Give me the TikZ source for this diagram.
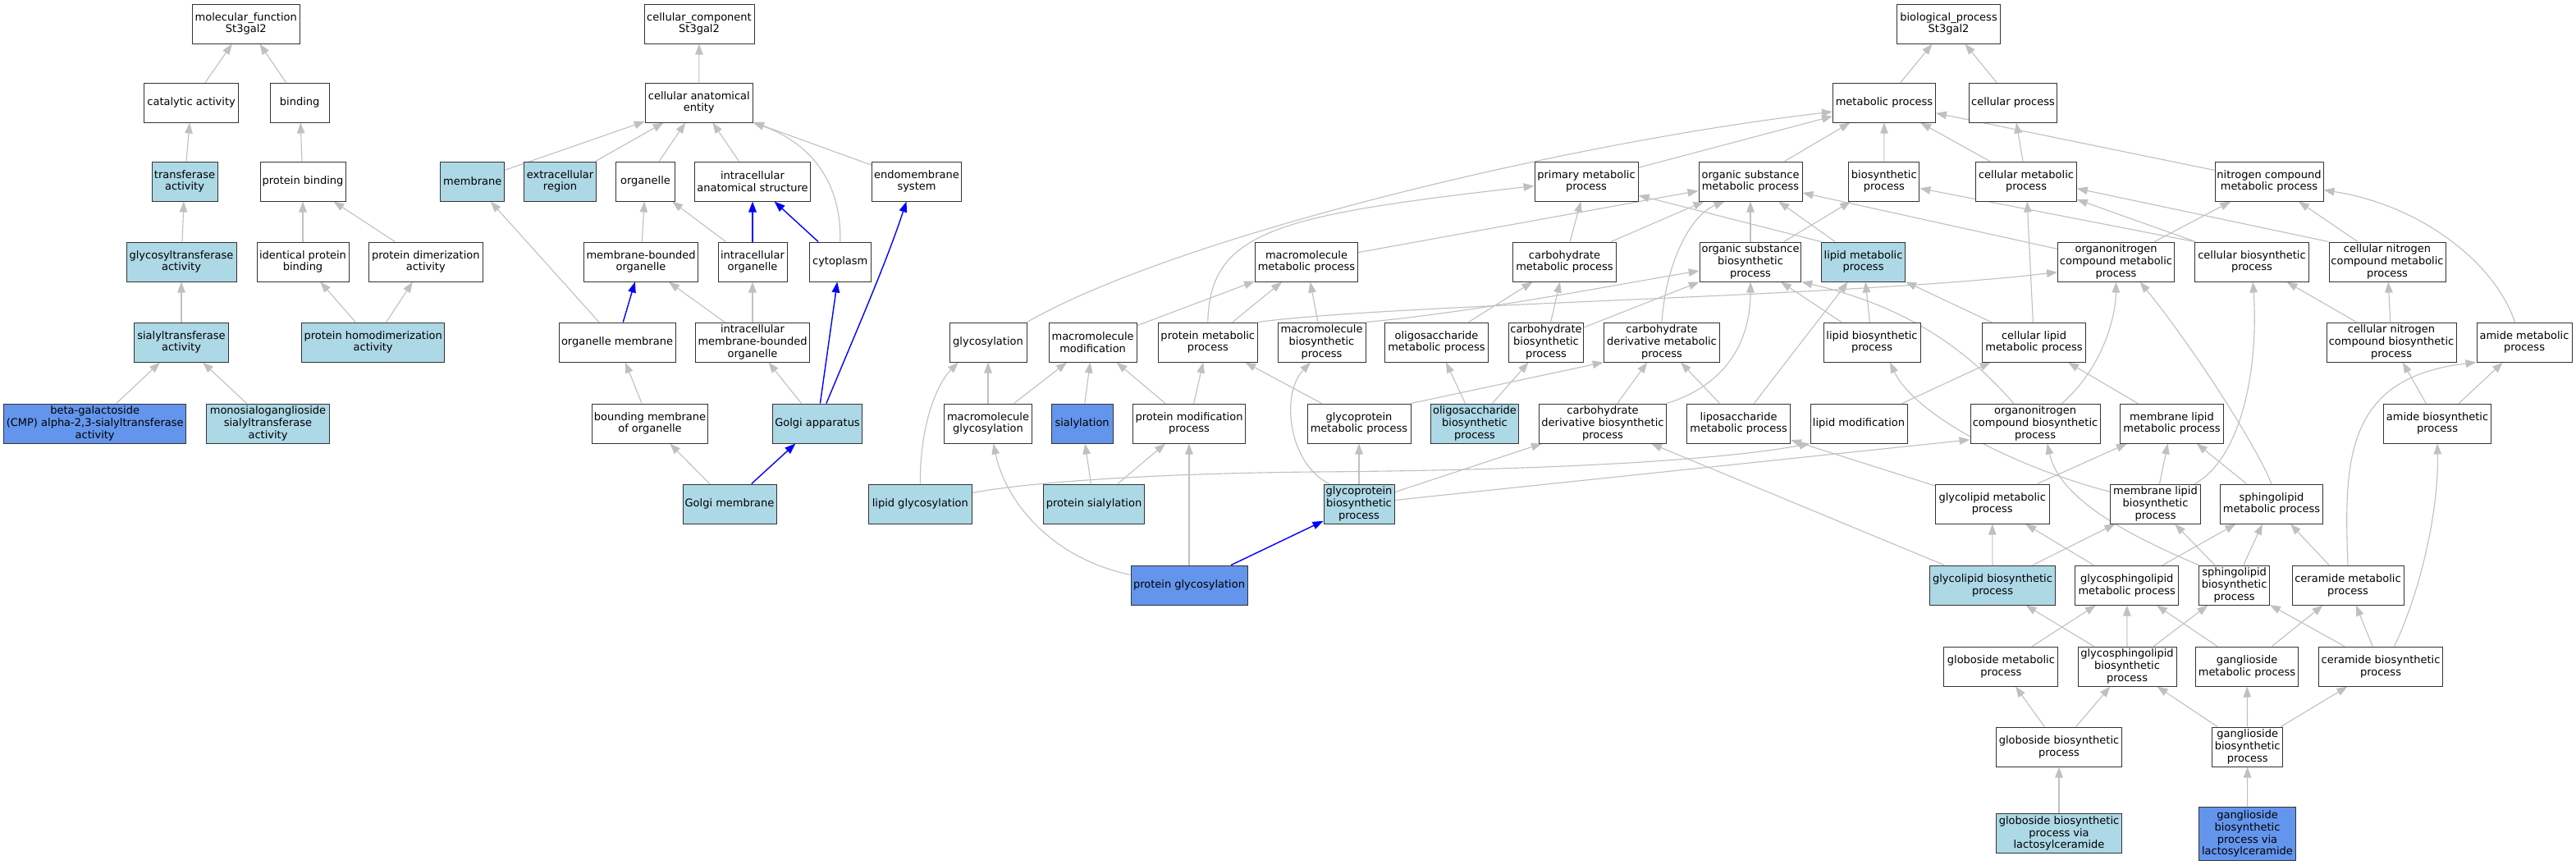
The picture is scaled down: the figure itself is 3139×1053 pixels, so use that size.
\documentclass[tikz,border=0pt]{standalone}
\usepackage{fontspec}
\setmainfont{DejaVu Sans}
\usetikzlibrary{arrows.meta}
\pgfdeclarelayer{bg}
\pgfsetlayers{bg,main}
\definecolor{lb}{HTML}{ADD8E6}
\definecolor{rb}{HTML}{6495ED}
\definecolor{eg}{HTML}{C0C0C0}
\newcommand\gonode[6]{\node[box,#5,minimum width=#4pt] (#1) at (#2,#3) {#6};}
\begin{document}
\begin{tikzpicture}[x=1pt,y=-1pt,
  box/.style={draw=black!80, line width=1pt, fill=white, rectangle, minimum height=48pt, inner xsep=1pt, inner ysep=1pt, align=center, font={\fontsize{13}{14.8}\selectfont}, text=black},
  e/.style={draw=eg, line width=1.1pt, -{Triangle[length=13pt,width=9.5pt]}},
  be/.style={draw=blue, line width=1.4pt, -{Triangle[length=13pt,width=9.5pt]}}]
\useasboundingbox (0,0) rectangle (3139,1053);
\begin{pgfonlayer}{bg}
\fill[white] (0,0) rectangle (3139,1053);
\end{pgfonlayer}
% ---------- molecular function ----------
\gonode{mf}{299.8}{29}{131}{}{molecular\_function\\St3gal2}
\gonode{cat}{233.1}{125}{115}{}{catalytic activity}
\gonode{bind}{365.2}{125}{72}{}{binding}
\gonode{trans}{225}{221}{80}{fill=lb}{transferase\\activity}
\gonode{pbind}{369}{221}{104}{}{protein binding}
\gonode{glyt}{221}{319}{134}{fill=lb}{glycosyltransferase\\activity}
\gonode{ipb}{369}{319}{112}{}{identical protein\\binding}
\gonode{pdim}{518.8}{319}{139}{}{protein dimerization\\activity}
\gonode{sialt}{221}{417}{115}{fill=lb}{sialyltransferase\\activity}
\gonode{phd}{454.7}{417}{174}{fill=lb}{protein homodimerization\\activity}
\gonode{bgal}{115.7}{516}{222}{fill=rb}{beta-galactoside\\(CMP) alpha-2,3-sialyltransferase\\activity}
\gonode{mono}{326.5}{516}{150}{fill=lb}{monosialoganglioside\\sialyltransferase\\activity}
% ---------- cellular component ----------
\gonode{cc}{852}{29}{134}{}{cellular\_component\\St3gal2}
\gonode{cae}{851.8}{125}{131}{}{cellular anatomical\\entity}
\gonode{mem}{575.8}{221}{78}{fill=lb}{membrane}
\gonode{ecr}{682.5}{221}{88}{fill=lb}{extracellular\\region}
\gonode{org}{786.5}{221}{72}{}{organelle}
\gonode{ias}{917}{221}{141.5}{}{intracellular\\anatomical structure}
\gonode{endo}{1117}{221}{109.5}{}{endomembrane\\system}
\gonode{mbo}{781}{319}{139}{}{membrane-bounded\\organelle}
\gonode{io}{917}{319}{84}{}{intracellular\\organelle}
\gonode{cyto}{1023.7}{319}{75}{}{cytoplasm}
\gonode{om}{752}{417}{142}{}{organelle membrane}
\gonode{imbo}{917}{417}{139}{}{intracellular\\membrane-bounded\\organelle}
\gonode{bmo}{792}{516}{141.5}{}{bounding membrane\\of organelle}
\gonode{golgi}{996}{516}{109}{fill=lb}{Golgi apparatus}
\gonode{gm}{889}{614}{114}{fill=lb}{Golgi membrane}
% ---------- biological process ----------
\gonode{bp}{2374.5}{29}{126}{}{biological\_process\\St3gal2}
\gonode{met}{2296}{125}{125}{}{metabolic process}
\gonode{cp}{2453}{125}{107.5}{}{cellular process}
\gonode{prim}{1933}{221}{126}{}{primary metabolic\\process}
\gonode{osm}{2133}{221}{126}{}{organic substance\\metabolic process}
\gonode{bio}{2295.8}{221}{86}{}{biosynthetic\\process}
\gonode{cm}{2469}{221}{122.6}{}{cellular metabolic\\process}
\gonode{ncm}{2765}{221}{132}{}{nitrogen compound\\metabolic process}
\gonode{mm}{1592}{319}{125}{}{macromolecule\\metabolic process}
\gonode{carbm}{1906.5}{319}{126}{}{carbohydrate\\metabolic process}
\gonode{osb}{2133}{319}{123.6}{}{organic substance\\biosynthetic\\process}
\gonode{lipm}{2270.5}{319}{102}{fill=lb}{lipid metabolic\\process}
\gonode{onm}{2578.5}{319}{142}{}{organonitrogen\\compound metabolic\\process}
\gonode{cb}{2744}{319}{138.6}{}{cellular biosynthetic\\process}
\gonode{cncm}{2909}{319}{142}{}{cellular nitrogen\\compound metabolic\\process}
\gonode{glyc}{1204}{417}{94}{}{glycosylation}
\gonode{mmod}{1331.6}{417}{107}{}{macromolecule\\modification}
\gonode{protm}{1471.8}{417}{121}{}{protein metabolic\\process}
\gonode{mb}{1610.5}{417}{107}{}{macromolecule\\biosynthetic\\process}
\gonode{oligm}{1750.5}{417}{126}{}{oligosaccharide\\metabolic process}
\gonode{carbb}{1884}{417}{91.6}{}{carbohydrate\\biosynthetic\\process}
\gonode{cdm}{2025}{417}{141.5}{}{carbohydrate\\derivative metabolic\\process}
\gonode{lipb}{2281}{417}{118}{}{lipid biosynthetic\\process}
\gonode{clm}{2478.5}{417}{125.6}{}{cellular lipid\\metabolic process}
\gonode{cncb}{2914}{417}{158}{}{cellular nitrogen\\compound biosynthetic\\process}
\gonode{amidem}{3076}{417}{116}{}{amide metabolic\\process}
\gonode{mglyc}{1204}{516}{107}{}{macromolecule\\glycosylation}
\gonode{sial}{1318.6}{516}{75}{fill=rb}{sialylation}
\gonode{pmod}{1449}{516}{137}{}{protein modification\\process}
\gonode{gpm}{1656}{516}{126}{}{glycoprotein\\metabolic process}
\gonode{oligb}{1797}{516}{107.5}{fill=lb}{oligosaccharide\\biosynthetic\\process}
\gonode{cdb}{1953}{516}{155}{}{carbohydrate\\derivative biosynthetic\\process}
\gonode{lps}{2118.6}{516}{126}{}{liposaccharide\\metabolic process}
\gonode{lmod}{2265}{516}{118}{}{lipid modification}
\gonode{onb}{2480}{516}{158}{}{organonitrogen\\compound biosynthetic\\process}
\gonode{mlm}{2646.5}{516}{125.6}{}{membrane lipid\\metabolic process}
\gonode{amideb}{2970}{516}{130.5}{}{amide biosynthetic\\process}
\gonode{lglyc}{1121.3}{614}{125.5}{fill=lb}{lipid glycosylation}
\gonode{psial}{1333}{614}{123.6}{fill=lb}{protein sialylation}
\gonode{gpb}{1656}{614}{86}{fill=lb}{glycoprotein\\biosynthetic\\process}
\gonode{glm}{2427.7}{614}{139}{}{glycolipid metabolic\\process}
\gonode{mlb}{2626.5}{614}{110}{}{membrane lipid\\biosynthetic\\process}
\gonode{sphm}{2768}{614}{125.5}{}{sphingolipid\\metabolic process}
\gonode{pglyc}{1449}{713}{142}{fill=rb}{protein glycosylation}
\gonode{glb}{2428}{713}{152.5}{fill=lb}{glycolipid biosynthetic\\process}
\gonode{gslm}{2591.7}{713}{125.6}{}{glycosphingolipid\\metabolic process}
\gonode{sphb}{2722.6}{713}{85.6}{}{sphingolipid\\biosynthetic\\process}
\gonode{cerm}{2861}{713}{136}{}{ceramide metabolic\\process}
\gonode{globm}{2438.4}{812}{139}{}{globoside metabolic\\process}
\gonode{gslb}{2592}{812}{120}{}{glycosphingolipid\\biosynthetic\\process}
\gonode{gangm}{2738}{812}{125.5}{}{ganglioside\\metabolic process}
\gonode{cerb}{2901}{812}{150.4}{}{ceramide biosynthetic\\process}
\gonode{globb}{2509}{910}{153}{}{globoside biosynthetic\\process}
\gonode{gangb}{2738.7}{910}{86}{}{ganglioside\\biosynthetic\\process}
\gonode{globl}{2509}{1015.5}{153}{fill=lb}{globoside biosynthetic\\process via\\lactosylceramide}
\gonode{gangl}{2738.5}{1016}{118}{fill=rb,minimum height=65pt}{ganglioside\\biosynthetic\\process via\\lactosylceramide}
% ---------- edges ----------
\begin{pgfonlayer}{bg}
% MF
\draw[e] (cat) -- (mf);
\draw[e] (bind) -- (mf);
\draw[e] (trans) -- (cat);
\draw[e] (pbind) -- (bind);
\draw[e] (glyt) -- (trans);
\draw[e] (ipb) -- (pbind);
\draw[e] (pdim) -- (pbind);
\draw[e] (sialt) -- (glyt);
\draw[e] (phd) -- (ipb);
\draw[e] (phd) -- (pdim);
\draw[e] (bgal) -- (sialt);
\draw[e] (mono) -- (sialt);
% CC
\draw[e] (cae) -- (cc);
\draw[e] (mem) -- (cae);
\draw[e] (ecr) -- (cae);
\draw[e] (org) -- (cae);
\draw[e] (ias) -- (cae);
\draw[e] (endo) -- (cae);
\draw[e] (cyto.north) .. controls (1026,225) and (990,175) .. (cae.south east);
\draw[e] (mbo) -- (org);
\draw[e] (io) -- (org);
\draw[be] (io) -- (ias);
\draw[be] (cyto) -- (ias);
\draw[e] (om) -- (mem);
\draw[be] (om) -- (mbo);
\draw[e] (imbo) -- (mbo);
\draw[e] (imbo) -- (io);
\draw[e] (bmo) -- (om);
\draw[e] (golgi) -- (imbo);
\draw[be] (golgi) -- (cyto);
\draw[be] (golgi.66) .. controls (1045,400) and (1080,320) .. (endo.-117);
\draw[e] (gm) -- (bmo);
\draw[be] (gm) -- (golgi);
% BP
\draw[e] (met) -- (bp);
\draw[e] (cp) -- (bp);
\draw[e] (osm) -- (met);
\draw[e] (bio) -- (met);
\draw[e] (cm) -- (met);
\draw[e] (cm) -- (cp);
\draw[e] (prim) -- (met);
\draw[e] (ncm) -- (met);
\draw[e] (mm) -- (osm);
\draw[e] (carbm) -- (prim);
\draw[e] (carbm) -- (osm);
\draw[e] (osb) -- (osm);
\draw[e] (osb) -- (bio);
\draw[e] (lipm) -- (osm);
\draw[e] (lipm.north west) -- (prim.-15);
\draw[e] (onm) -- (osm);
\draw[e] (onm) -- (ncm);
\draw[e] (cb.north west) -- (bio);
\draw[e] (cb) -- (cm);
\draw[e] (cncm) -- (ncm);
\draw[e] (cncm.north west) -- (cm.-8);
\draw[e] (glyc.north east) .. controls (1430,290) and (1900,175) .. (met.-170);
\draw[e] (mmod) -- (mm);
\draw[e] (protm.north) .. controls (1474,280) and (1560,262) .. (prim.-175);
\draw[e] (protm) -- (mm);
\draw[e] (protm.north east) .. controls (1700,370) and (2250,362) .. (onm.-170);
\draw[e] (mb) -- (mm);
\draw[e] (mb.north east) .. controls (1800,380) and (1980,345) .. (osb.-170);
\draw[e] (oligm) -- (carbm);
\draw[e] (carbb) -- (carbm);
\draw[e] (carbb) -- (osb);
\draw[e] (cdm.north) .. controls (2030,320) and (2060,262) .. (osm.-142);
\draw[e] (lipb) -- (lipm);
\draw[e] (lipb) -- (osb);
\draw[e] (clm) -- (lipm);
\draw[e] (clm) -- (cm);
\draw[e] (cncb) -- (cncm);
\draw[e] (cncb) -- (cb);
\draw[e] (amidem.115) .. controls (3040,320) and (2950,250) .. (ncm.-9);
\draw[e] (mglyc) -- (glyc);
\draw[e] (mglyc) -- (mmod);
\draw[e] (sial) -- (mmod);
\draw[e] (pmod) -- (mmod);
\draw[e] (pmod) -- (protm);
\draw[e] (gpm) -- (protm);
\draw[e] (gpm.north east) -- (cdm.south west);
\draw[e] (oligb) -- (oligm);
\draw[e] (oligb) -- (carbb);
\draw[e] (cdb) -- (cdm);
\draw[e] (cdb.north east) .. controls (2100,470) and (2133,420) .. (osb.south);
\draw[e] (lps) -- (lipm);
\draw[e] (lps) -- (cdm);
\draw[e] (lmod) -- (clm);
\draw[e] (onb.37) .. controls (2560,450) and (2578,390) .. (onm.south);
\draw[e] (onb.137) .. controls (2400,430) and (2330,375) .. (osb.south east);
\draw[e] (mlm) -- (clm);
\draw[e] (amideb) -- (amidem);
\draw[e] (amideb) -- (cncb);
\draw[e] (lglyc.north) .. controls (1121,520) and (1140,470) .. (glyc.-146);
\draw[e] (lglyc.12) .. controls (1250,588) and (1400,577) .. (1600,575) .. controls (1900,573) and (2100,560) .. (lmod.south west);
\draw[e] (psial) -- (sial);
\draw[e] (psial) -- (pmod);
\draw[e] (gpb) -- (gpm);
\draw[e] (gpb) -- (cdb);
\draw[e] (gpb.146) .. controls (1570,565) and (1560,480) .. (mb.-119);
\draw[e] (gpb) -- (onb.-166);
\draw[e] (glm) -- (lps);
\draw[e] (glm) -- (mlm);
\draw[e] (mlb) -- (mlm);
\draw[e] (mlb.165) .. controls (2440,565) and (2330,500) .. (lipb.-48);
\draw[e] (mlb.27) .. controls (2735,555) and (2752,440) .. (cb.-87);
\draw[e] (sphm) -- (mlm);
\draw[e] (sphm.north) .. controls (2748,540) and (2670,420) .. (onm.-40);
\draw[be] (pglyc) -- (gpb);
\draw[e] (pglyc.170) .. controls (1280,680) and (1225,610) .. (mglyc.-75);
\draw[e] (pglyc) -- (pmod);
\draw[e] (glb) -- (glm);
\draw[e] (glb) -- (mlb);
\draw[e] (glb) -- (cdb);
\draw[e] (gslm) -- (glm);
\draw[e] (gslm) -- (sphm);
\draw[e] (sphb) -- (sphm);
\draw[e] (sphb) -- (mlb);
\draw[e] (sphb.north west) .. controls (2600,655) and (2510,610) .. (onb.-59);
\draw[e] (cerm) -- (sphm);
\draw[e] (cerm.north) .. controls (2856,560) and (2858,460) .. (amidem.south west);
\draw[e] (globm) -- (gslm);
\draw[e] (gslb) -- (gslm);
\draw[e] (gslb) -- (glb);
\draw[e] (gslb) -- (sphb);
\draw[e] (gangm) -- (gslm);
\draw[e] (gangm) -- (cerm);
\draw[e] (cerb) -- (cerm);
\draw[e] (cerb) -- (sphb);
\draw[e] (cerb.56) .. controls (2950,720) and (2972,620) .. (amideb.south);
\draw[e] (globb) -- (globm);
\draw[e] (globb) -- (gslb);
\draw[e] (gangb) -- (gslb);
\draw[e] (gangb) -- (gangm);
\draw[e] (gangb) -- (cerb);
\draw[e] (globl) -- (globb);
\draw[e] (gangl) -- (gangb);
\end{pgfonlayer}
\end{tikzpicture}
\end{document}
